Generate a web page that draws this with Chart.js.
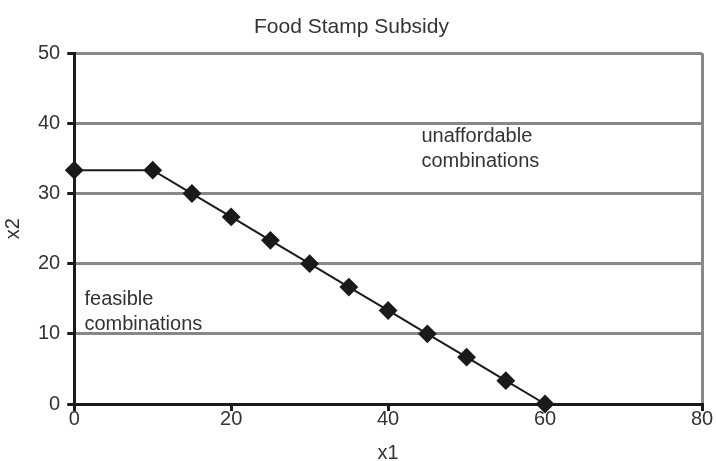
<!DOCTYPE html>
<html>
<head>
<meta charset="utf-8">
<script src="https://cdn.jsdelivr.net/npm/chart.js@4.4.0/dist/chart.umd.min.js"></script>
<style>
html,body{margin:0;padding:0;background:#fff;}
#wrap{width:716px;height:461px;position:relative;}
</style>
</head>
<body>
<div id="wrap"><canvas id="c" width="716" height="461"></canvas></div>
<script>
const titleText = "Food Stamp Subsidy";
const xLabel = "x1";
const yLabel = "x2";
const x1Values = [0, 10, 15, 20, 25, 30, 35, 40, 45, 50, 55, 60];
const x2Values = [33.33, 33.33, 30, 26.67, 23.33, 20, 16.67, 13.33, 10, 6.67, 3.33, 0];
const xTicks = [0, 20, 40, 60, 80];
const yTicks = [0, 10, 20, 30, 40, 50];
const annotations = [
  {lines: ["unaffordable", "combinations"], x: 44.25, y: 39.6},
  {lines: ["feasible", "combinations"], x: 1.3, y: 16.3}
];

const FONT = "'Liberation Sans', Arial, sans-serif";
const annoPlugin = {
  id: 'anno',
  afterDatasetsDraw(chart) {
    const ctx = chart.ctx;
    const xs = chart.scales.x, ys = chart.scales.y;
    ctx.save();
    ctx.fillStyle = '#333';
    ctx.font = '20px ' + FONT;
    ctx.textBaseline = 'top';
    ctx.textAlign = 'left';
    annotations.forEach(a => {
      const px = xs.getPixelForValue(a.x);
      const py = ys.getPixelForValue(a.y);
      a.lines.forEach((l, i) => ctx.fillText(l, px, py + i * 25));
    });
    ctx.restore();
  }
};

new Chart(document.getElementById('c'), {
  type: 'scatter',
  data: {
    datasets: [{
      data: x1Values.map((v, i) => ({x: v, y: x2Values[i]})),
      showLine: true,
      borderColor: '#1a1a1a',
      borderWidth: 2,
      backgroundColor: '#1a1a1a',
      pointStyle: 'rectRot',
      pointRadius: 8,
      pointHoverRadius: 8,
      clip: false
    }]
  },
  options: {
    responsive: false,
    animation: false,
    devicePixelRatio: 1,
    layout: {padding: {left: 1, right: 14, top: 5, bottom: -4}},
    plugins: {
      legend: {display: false},
      tooltip: {enabled: false},
      title: {display: true, text: titleText, color: '#333', font: {family: FONT, size: 21, weight: 'normal'}, padding: {top: 10, bottom: 13}}
    },
    scales: {
      x: {
        type: 'linear', min: 0, max: 80,
        afterBuildTicks: s => { s.ticks = xTicks.map(v => ({value: v})); },
        border: {color: '#1a1a1a', width: 3},
        grid: {
          drawOnChartArea: true,
          color: c => c.tick && c.tick.value === 80 ? '#888' : 'rgba(0,0,0,0)',
          lineWidth: 3,
          tickColor: '#1a1a1a',
          tickLength: 7
        },
        ticks: {color: '#333', font: {family: FONT, size: 20}, padding: -4},
        title: {display: true, text: xLabel, color: '#333', font: {family: FONT, size: 20}, padding: {top: 14, bottom: 0}}
      },
      y: {
        type: 'linear', min: 0, max: 50,
        afterBuildTicks: s => { s.ticks = yTicks.map(v => ({value: v})); },
        border: {color: '#1a1a1a', width: 3},
        grid: {
          color: c => c.tick && c.tick.value === 0 ? 'rgba(0,0,0,0)' : '#888',
          lineWidth: 3,
          tickColor: '#1a1a1a',
          tickLength: 7
        },
        ticks: {color: '#333', font: {family: FONT, size: 20}, padding: 7},
        title: {display: true, text: yLabel, color: '#333', font: {family: FONT, size: 20}, padding: {top: 0, bottom: 6}}
      }
    }
  },
  plugins: [annoPlugin]
});
</script>
</body>
</html>
